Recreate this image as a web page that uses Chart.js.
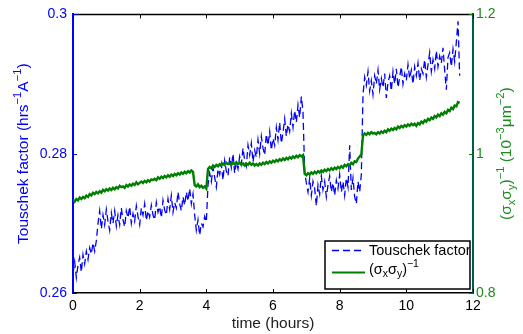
<!DOCTYPE html>
<html><head><meta charset="utf-8">
<script src="https://cdn.jsdelivr.net/npm/chart.js@4"></script>
<style>html,body{margin:0;padding:0;background:#fff;}canvas{display:block;}</style>
</head><body>
<canvas id="c" width="523" height="334"></canvas>
<script>
const timeHours = [
0.00,0.05,0.10,0.15,0.20,0.25,0.30,0.35,0.40,0.45,0.50,0.55,0.60,0.65,0.70,0.75,0.80,0.85,0.90,0.95,
1.00,1.05,1.10,1.15,1.20,1.25,1.30,1.35,1.40,1.45,1.50,1.55,1.60,1.65,1.70,1.75,1.80,1.85,1.90,1.95,
2.00,2.05,2.10,2.15,2.20,2.25,2.30,2.35,2.40,2.45,2.50,2.55,2.60,2.65,2.70,2.75,2.80,2.85,2.90,2.95,
3.00,3.05,3.10,3.15,3.20,3.25,3.30,3.35,3.40,3.45,3.50,3.55,3.60,3.65,3.70,3.75,3.80,3.85,3.90,3.95,
4.00,4.05,4.10,4.15,4.20,4.25,4.30,4.35,4.40,4.45,4.50,4.55,4.60,4.65,4.70,4.75,4.80,4.85,4.90,4.95,
5.00,5.05,5.10,5.15,5.20,5.25,5.30,5.35,5.40,5.45,5.50,5.55,5.60,5.65,5.70,5.75,5.80,5.85,5.90,5.95,
6.00,6.05,6.10,6.15,6.20,6.25,6.30,6.35,6.40,6.45,6.50,6.55,6.60,6.65,6.70,6.75,6.80,6.85,6.90,6.95,
7.00,7.05,7.10,7.15,7.20,7.25,7.30,7.35,7.40,7.45,7.50,7.55,7.60,7.65,7.70,7.75,7.80,7.85,7.90,7.95,
8.00,8.05,8.10,8.15,8.20,8.25,8.30,8.35,8.40,8.45,8.50,8.55,8.60,8.65,8.70,8.75,8.80,8.85,8.90,8.95,
9.00,9.05,9.10,9.15,9.20,9.25,9.30,9.35,9.40,9.45,9.50,9.55,9.60,9.65,9.70,9.75,9.80,9.85,9.90,9.95,
10.00,10.05,10.10,10.15,10.20,10.25,10.30,10.35,10.40,10.45,10.50,10.55,10.60,10.65,10.70,10.75,10.80,10.85,10.90,10.95,
11.00,11.05,11.10,11.15,11.20,11.25,11.30,11.35,11.40,11.45,11.50,11.55,11.60];
const touschekFactor = [
0.2628,0.2645,0.2622,0.2640,0.2651,0.2630,0.2655,0.2642,
0.2660,0.2648,0.2665,0.2656,0.2672,0.2660,0.2675,
0.2700,0.2718,
0.2692,0.2712,0.2698,0.2720,0.2703,0.2690,0.2715,0.2700,0.2718,0.2696,
0.2712,0.2698,0.2722,0.2705,0.2695,0.2718,0.2708,0.2724,0.2700,0.2714,
0.2703,0.2725,0.2710,0.2698,0.2722,0.2712,0.2728,0.2704,0.2718,0.2709,
0.2726,0.2712,0.2705,0.2730,0.2716,0.2724,0.2708,0.2733,0.2719,0.2712,
0.2735,0.2720,0.2740,0.2716,0.2730,0.2722,0.2745,0.2728,0.2718,0.2738,
0.2726,0.2745,0.2732,0.2750,0.2728,0.2742,
0.2712,0.2690,0.2705,0.2683,0.2700,0.2695,0.2710,0.2702,
0.2755,0.2772,0.2760,0.2780,0.2766,0.2752,0.2778,0.2770,0.2785,0.2762,
0.2790,0.2775,0.2768,0.2795,0.2780,0.2800,0.2772,0.2788,0.2778,0.2796,
0.2785,0.2808,0.2790,0.2782,0.2812,0.2798,0.2815,0.2788,0.2805,0.2795,
0.2820,0.2800,0.2825,0.2808,0.2798,0.2828,0.2812,0.2832,0.2805,0.2822,
0.2812,0.2838,0.2820,0.2845,0.2815,0.2830,0.2850,0.2825,0.2842,0.2832,
0.2858,0.2838,0.2862,0.2845,0.2870,0.2852,0.2882,0.2860,
0.2775,0.2758,0.2745,0.2765,0.2740,0.2760,0.2750,0.2725,0.2755,0.2742,
0.2768,0.2748,0.2760,0.2738,0.2755,0.2768,0.2745,0.2758,0.2740,0.2762,
0.2750,0.2770,0.2745,0.2760,0.2740,0.2765,0.2752,0.2812,0.2748,0.2765,
0.2738,0.2728,0.2760,0.2745,0.2770,
0.2885,0.2910,0.2898,0.2918,0.2890,0.2905,0.2885,0.2912,0.2900,0.2920,
0.2892,0.2908,0.2895,0.2915,0.2880,0.2902,0.2912,0.2890,0.2918,0.2900,
0.2922,0.2895,0.2910,0.2925,0.2900,0.2915,0.2905,0.2928,0.2908,0.2920,
0.2900,0.2925,0.2912,0.2930,0.2905,0.2922,0.2915,0.2935,0.2910,0.2928,
0.2945,0.2918,0.2935,0.2922,0.2948,0.2925,0.2940,0.2930,0.2952,0.2920,
0.2892,0.2938,0.2945,0.2925,0.2950,0.2932,0.2960,0.2990,0.2912];
const inverseBeamArea = [
0.934,0.931,0.935,0.933,0.937,0.935,0.938,0.936,0.940,0.938,0.942,0.940,
0.944,0.942,0.945,0.943,0.946,0.944,0.948,0.946,0.949,0.947,0.950,0.948,
0.951,0.949,0.952,0.950,0.954,0.952,0.953,0.951,0.955,0.953,0.956,0.954,
0.957,0.955,0.959,0.956,0.958,0.960,0.958,0.961,0.959,0.962,0.960,0.963,
0.962,0.964,0.962,0.966,0.964,0.967,0.965,0.968,0.966,0.969,0.967,0.970,
0.968,0.971,0.969,0.972,0.970,0.973,0.971,0.974,0.972,0.975,0.973,0.976,0.974,
0.955,0.953,0.956,0.952,0.954,0.951,0.953,0.950,
0.978,0.981,0.979,0.983,0.981,0.984,0.982,0.985,0.983,0.986,
0.984,0.987,0.985,0.986,0.984,0.987,0.985,0.988,0.985,0.987,
0.984,0.986,0.983,0.986,0.984,0.987,0.984,0.986,0.983,0.985,
0.983,0.986,0.984,0.987,0.985,0.988,0.986,0.989,0.987,0.990,
0.988,0.991,0.989,0.992,0.990,0.993,0.991,0.994,0.992,0.995,
0.993,0.996,0.994,0.997,0.995,0.998,0.996,0.998,
0.971,0.969,0.972,0.970,0.973,0.971,0.974,0.972,0.975,0.973,
0.976,0.974,0.977,0.975,0.978,0.976,0.979,0.977,0.980,0.978,
0.981,0.979,0.982,0.980,0.984,0.982,0.985,0.983,0.987,0.985,
0.989,0.988,0.993,0.996,0.999,
1.026,1.029,1.027,1.030,1.028,1.031,1.029,1.030,1.028,1.031,
1.029,1.032,1.030,1.033,1.031,1.035,1.033,1.036,1.034,1.037,
1.035,1.039,1.037,1.040,1.038,1.041,1.039,1.042,1.040,1.043,
1.041,1.043,1.040,1.044,1.042,1.046,1.044,1.048,1.046,1.050,
1.048,1.052,1.050,1.054,1.052,1.056,1.054,1.058,1.056,1.060,
1.058,1.063,1.061,1.066,1.064,1.069,1.068,1.074,1.073];
const xTicks = [0,2,4,6,8,10,12];
const leftTicks = [0.26,0.28,0.3];
const rightTicks = [0.8,1,1.2];
const seriesNames = ['Touschek factor','(σxσy)^-1'];

const FONT = '"Liberation Sans", Arial, Helvetica, sans-serif';
const BLUE = '#0000ff';
const GREEN = '#008000';
const GREEN_TXT = '#1a8c1a';
const RIGHT_AXIS = '#005c4c';

function drawRich(ctx, parts, size, x, y, align) {
  const measure = p => { ctx.font = (p[1] ? size*0.72 : size) + 'px ' + FONT; return ctx.measureText(p[0]).width; };
  let total = 0; parts.forEach(p => total += measure(p));
  let cx = align === 'center' ? x - total/2 : x;
  ctx.textBaseline = 'middle'; ctx.textAlign = 'left';
  parts.forEach(p => {
    const w = measure(p);
    const dy = p[1] === 1 ? -size*0.38 : (p[1] === -1 ? size*0.3 : 0);
    ctx.fillText(p[0], cx, y + dy);
    cx += w;
  });
}

const decor = {
  id: 'decor',
  afterDraw(chart) {
    const ctx = chart.ctx, a = chart.chartArea;
    const xs = chart.scales.x, yl = chart.scales.y, yr = chart.scales.y1;
    ctx.save();
    ctx.strokeStyle = '#000'; ctx.lineWidth = 1.5;
    ctx.beginPath(); ctx.moveTo(a.left, a.top); ctx.lineTo(a.right, a.top); ctx.stroke();
    ctx.lineWidth = 1;
    xTicks.forEach(v => {
      const px = Math.round(xs.getPixelForValue(v)) + 0.5;
      ctx.beginPath(); ctx.moveTo(px, a.bottom); ctx.lineTo(px, a.bottom - 4);
      ctx.moveTo(px, a.top); ctx.lineTo(px, a.top + 4); ctx.stroke();
    });
    ctx.strokeStyle = BLUE;
    leftTicks.forEach(v => {
      const py = Math.round(yl.getPixelForValue(v)) + 0.5;
      ctx.beginPath(); ctx.moveTo(a.left, py); ctx.lineTo(a.left + 4, py); ctx.stroke();
    });
    ctx.strokeStyle = GREEN;
    rightTicks.forEach(v => {
      const py = Math.round(yr.getPixelForValue(v)) + 0.5;
      ctx.beginPath(); ctx.moveTo(a.right, py); ctx.lineTo(a.right - 4, py); ctx.stroke();
    });
    ctx.fillStyle = '#222';
    ctx.font = '15.5px ' + FONT; ctx.textAlign = 'center'; ctx.textBaseline = 'middle';
    ctx.fillText('time (hours)', (a.left + a.right)/2, 324);
    ctx.save();
    ctx.translate(24, (a.top + a.bottom)/2); ctx.rotate(-Math.PI/2);
    ctx.fillStyle = BLUE;
    drawRich(ctx, [['Touschek factor (hrs',0],['\u22121',1],['A',0],['\u22121',1],[')',0]], 15.5, 0, 0, 'center');
    ctx.restore();
    ctx.save();
    ctx.translate(507, (a.top + a.bottom)/2); ctx.rotate(-Math.PI/2);
    ctx.fillStyle = GREEN_TXT;
    drawRich(ctx, [['(\u03c3',0],['x',-1],['\u03c3',0],['y',-1],[')',0],['\u22121',1],[' (10',0],['\u22123',1],['\u03bcm',0],['\u22122',1],[')',0]], 15.5, 0, 0, 'center');
    ctx.restore();
    const lx = 325, ly = 241, lw = 145, lh = 48;
    ctx.fillStyle = '#fff'; ctx.fillRect(lx, ly, lw, lh);
    ctx.fillStyle = '#000';
    ctx.save();
    ctx.beginPath(); ctx.rect(lx, ly, lw, lh); ctx.clip();
    ctx.font = '14.5px ' + FONT; ctx.textAlign = 'left'; ctx.textBaseline = 'middle';
    ctx.fillText(seriesNames[0], 369, 251);
    drawRich(ctx, [['(\u03c3',0],['x',-1],['\u03c3',0],['y',-1],[')',0],['\u22121',1]], 14.5, 369, 270, 'left');
    ctx.restore();
    ctx.strokeStyle = BLUE; ctx.lineWidth = 1.5; ctx.setLineDash([7,4]);
    ctx.beginPath(); ctx.moveTo(332, 250.5); ctx.lineTo(365, 250.5); ctx.stroke();
    ctx.setLineDash([]);
    ctx.strokeStyle = GREEN; ctx.lineWidth = 2;
    ctx.beginPath(); ctx.moveTo(332, 272.5); ctx.lineTo(365, 272.5); ctx.stroke();
    ctx.strokeStyle = '#000'; ctx.lineWidth = 1.5;
    ctx.strokeRect(lx, ly, lw, lh);
    ctx.restore();
  }
};

new Chart(document.getElementById('c'), {
  type: 'line',
  data: {
    datasets: [
      { label: seriesNames[1], yAxisID: 'y1', order: 0,
        data: timeHours.map((t,i) => ({x: t, y: inverseBeamArea[i]})),
        borderColor: GREEN, borderWidth: 2.4, pointRadius: 0, tension: 0, fill: false },
      { label: seriesNames[0], yAxisID: 'y', order: 1,
        data: timeHours.map((t,i) => ({x: t, y: touschekFactor[i]})),
        borderColor: BLUE, borderWidth: 1.3, borderDash: [7,4], pointRadius: 0, tension: 0, fill: false }
    ]
  },
  options: {
    responsive: false, animation: false, devicePixelRatio: 1,
    layout: { padding: { top: 13, left: 0, right: 0, bottom: 0 } },
    plugins: { legend: { display: false }, tooltip: { enabled: false } },
    scales: {
      x: { type: 'linear', min: 0, max: 12,
        afterBuildTicks: s => { s.ticks = xTicks.map(v => ({value: v})); },
        afterFit: s => { s.height = 41; },
        ticks: { color: '#000', font: { family: FONT, size: 14 }, padding: 5, maxRotation: 0 },
        grid: { display: false, drawTicks: false, tickLength: 0 },
        border: { display: true, color: '#000', width: 1.5 } },
      y: { type: 'linear', position: 'left', min: 0.26, max: 0.30,
        afterBuildTicks: s => { s.ticks = leftTicks.map(v => ({value: v})); },
        afterFit: s => { s.width = 73; },
        ticks: { color: BLUE, font: { family: FONT, size: 14 }, padding: 6, callback: v => String(Math.round(v*100)/100) },
        grid: { display: false, drawTicks: false, tickLength: 0 },
        border: { display: true, color: BLUE, width: 2 } },
      y1: { type: 'linear', position: 'right', min: 0.8, max: 1.2,
        afterBuildTicks: s => { s.ticks = rightTicks.map(v => ({value: v})); },
        afterFit: s => { s.width = 50; },
        ticks: { color: GREEN_TXT, font: { family: FONT, size: 14 }, padding: 3, callback: v => String(Math.round(v*10)/10) },
        grid: { display: false, drawTicks: false, tickLength: 0 },
        border: { display: true, color: RIGHT_AXIS, width: 2 } }
    }
  },
  plugins: [decor]
});
</script>
</body></html>
